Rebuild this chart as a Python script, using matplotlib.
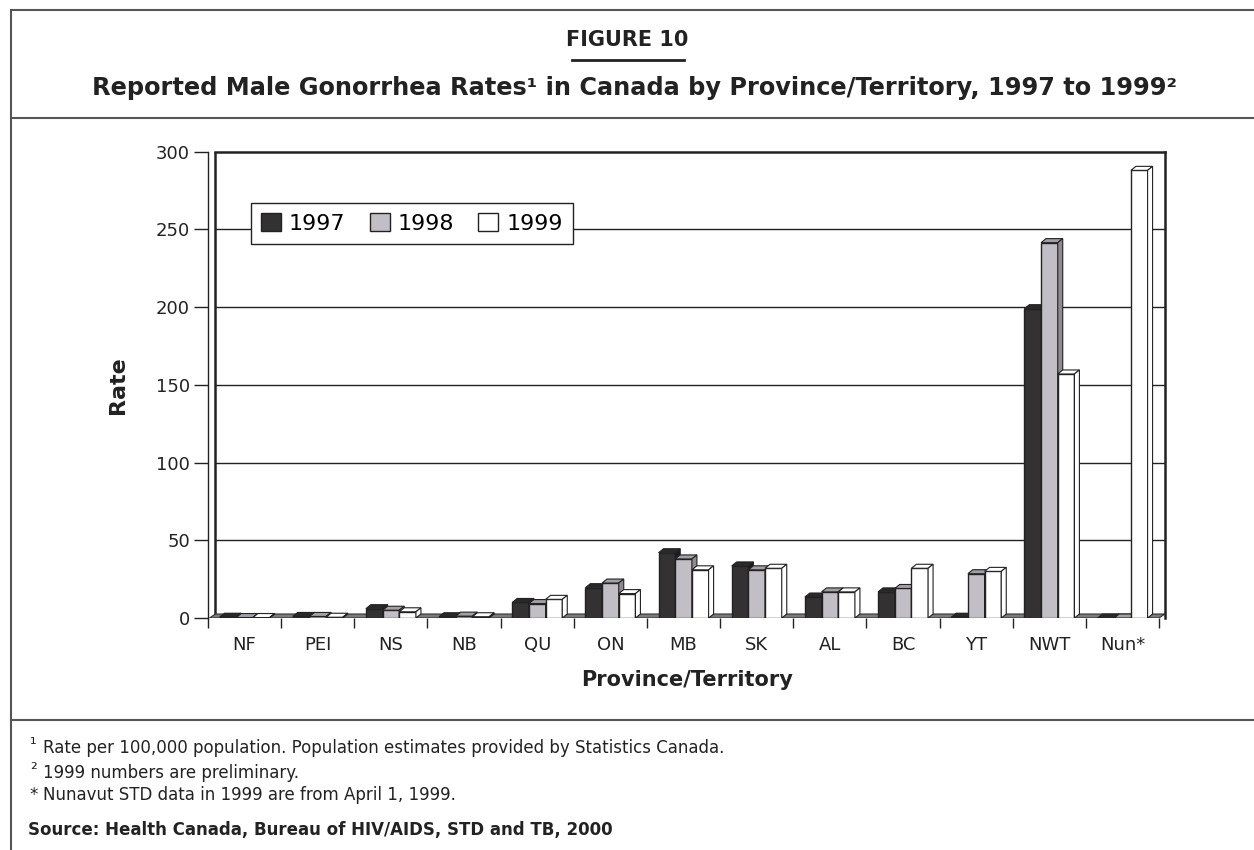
import matplotlib
matplotlib.use('Agg')
import matplotlib.pyplot as plt
from matplotlib.patches import Polygon
from matplotlib.lines import Line2D
import numpy as np

plt.rcParams['font.family'] = ['DejaVu Sans']

# data (rate per 100,000)
provinces = ['NF', 'PEI', 'NS', 'NB', 'QU', 'ON', 'MB', 'SK', 'AL', 'BC', 'YT', 'NWT', 'Nun*']
years = ['1997', '1998', '1999']
rate_1997 = [0.5, 1.0, 6.0, 0.8, 10.0, 19.5, 42.0, 33.5, 13.5, 16.8, 0.5, 199.0, 0.0]
rate_1998 = [0.3, 1.0, 5.0, 1.2, 9.3, 22.5, 38.0, 31.0, 16.8, 19.0, 28.5, 241.5, 0.0]
rate_1999 = [0.3, 0.5, 4.0, 0.8, 12.0, 15.7, 31.0, 32.0, 16.8, 32.0, 30.0, 157.0, 288.0]

front = ['#333132', '#c2bec5', '#ffffff']
side = ['#1c1b1c', '#8e8a91', '#ffffff']
top = ['#2a292a', '#a39fa6', '#ffffff']
edge = '#222222'
ink = '#222222'

W, H = 1254, 850
fig = plt.figure(figsize=(W / 100, H / 100), dpi=100)

def fx(px):
    return px / W

def fy(py):
    return 1 - py / H

# outer frame and separators
for yy in (10, 118, 720):
    fig.add_artist(Line2D([fx(11), 1], [fy(yy), fy(yy)], color='#555555', lw=1.5))
fig.add_artist(Line2D([fx(11), fx(11)], [0, fy(10)], color='#555555', lw=1.5))

fig.text(0.5, fy(40), 'FIGURE 10', ha='center', va='center', fontsize=15, fontweight='bold', color=ink)
fig.add_artist(Line2D([fx(572), fx(684)], [fy(60), fy(60)], color=ink, lw=2))
fig.text(fx(634), fy(88), 'Reported Male Gonorrhea Rates\u00b9 in Canada by Province/Territory, 1997 to 1999\u00b2',
         ha='center', va='center', fontsize=17.3, fontweight='bold', color=ink)

ax = fig.add_axes([fx(208), fy(618), (1165 - 208) / W, (618 - 151.7) / H])
x0, x1 = -0.48, 12.58
ax.set_xlim(x0, x1)
ax.set_ylim(0, 300)

# depth of the 3d effect in data units
px_x = (x1 - x0) / 957
px_y = 300 / 466.3
dx = 5 * px_x
dy = 4 * px_y
wall = 6 * px_x

# floor
ax.add_patch(Polygon([(x0, 0), (x1 - wall, 0), (x1, dy), (x0 + wall, dy)],
                     closed=True, facecolor='#7a7a7a', edgecolor='#333333', lw=0.8, zorder=2))

x = np.arange(len(provinces))
w = 0.228
series = [rate_1997, rate_1998, rate_1999]
for k, vals in enumerate(series):
    z = 3 + k * 0.1
    bars = ax.bar(x + (k - 1) * w, vals, width=w, color=front[k], edgecolor=edge,
                  linewidth=1.0, zorder=z, label=years[k])
    for b in bars:
        bx, bw, bh = b.get_x(), b.get_width(), b.get_height()
        ax.add_patch(Polygon([(bx, bh), (bx + bw, bh), (bx + bw + dx, bh + dy), (bx + dx, bh + dy)],
                             closed=True, facecolor=top[k], edgecolor=edge, lw=0.8, zorder=z))
        ax.add_patch(Polygon([(bx + bw, 0), (bx + bw + dx, dy), (bx + bw + dx, bh + dy), (bx + bw, bh)],
                             closed=True, facecolor=side[k], edgecolor=edge, lw=0.8, zorder=z))

yt = np.arange(0, 301, 50)
ax.set_yticks(yt)
ax.hlines(yt[1:-1], x0 + wall, x1, color=ink, lw=1.0, zorder=0)
ax.set_xticks(x)
ax.set_xticklabels(provinces)
ax.set_xticks(np.arange(-0.5, 12.6, 1.0), minor=True)
ax.tick_params(axis='x', which='major', length=0, pad=13, labelsize=13, colors=ink)
ax.tick_params(axis='x', which='minor', length=7, width=1, color=ink)
ax.tick_params(axis='y', length=10, width=1, labelsize=13, colors=ink, pad=3)
for name, s in ax.spines.items():
    s.set_color(ink)
    s.set_linewidth(1.8)
ax.spines['left'].set_linewidth(1.0)
ax.spines['bottom'].set_visible(False)
ax.spines['top'].set_bounds(x0 + wall, x1)
ax.vlines(x0 + wall, 0, 300, color=ink, lw=1.8, zorder=1)

fig.text(fx(118), fy(385), 'Rate', rotation=90, ha='center', va='center',
         fontsize=16, fontweight='bold', color=ink)
fig.text(fx(687), fy(680), 'Province/Territory', ha='center', va='center',
         fontsize=15, fontweight='bold', color=ink)

leg = ax.legend(loc='upper left', bbox_to_anchor=(fx(251), fy(203)), bbox_transform=fig.transFigure,
                ncol=3, fontsize=16, frameon=True, fancybox=False, edgecolor=ink, framealpha=1,
                handlelength=0.9, handleheight=0.9, handletextpad=0.35, columnspacing=1.1,
                borderpad=0.45, borderaxespad=0)
leg.get_frame().set_linewidth(1.0)
leg.set_zorder(10)

# footnotes
fs = 12
fig.text(fx(30), fy(745), '\u00b9', fontsize=fs, va='center', color=ink)
fig.text(fx(43), fy(748), 'Rate per 100,000 population. Population estimates provided by Statistics Canada.',
         fontsize=fs, va='center', color=ink)
fig.text(fx(30), fy(770), '\u00b2', fontsize=fs, va='center', color=ink)
fig.text(fx(43), fy(773), '1999 numbers are preliminary.', fontsize=fs, va='center', color=ink)
fig.text(fx(29), fy(795), '*', fontsize=fs, va='center', color=ink)
fig.text(fx(43), fy(795), 'Nunavut STD data in 1999 are from April 1, 1999.', fontsize=fs, va='center', color=ink)
fig.text(fx(28), fy(830), 'Source: Health Canada, Bureau of HIV/AIDS, STD and TB, 2000',
         fontsize=fs, fontweight='bold', va='center', color=ink)

fig.savefig('out.png', dpi=100)
